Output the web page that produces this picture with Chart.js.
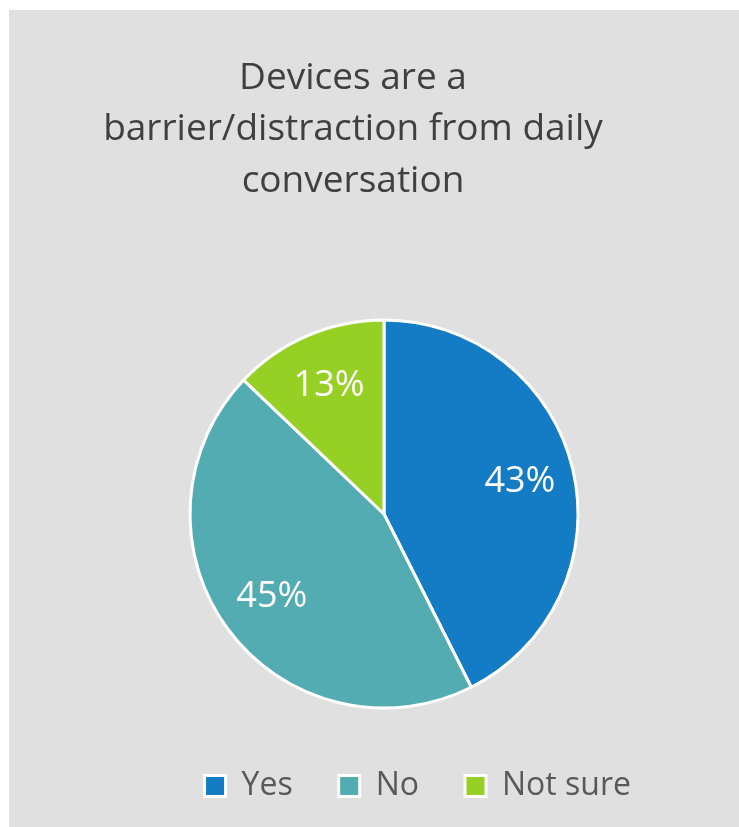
<!DOCTYPE html>
<html>
<head>
<meta charset="utf-8">
<script src="https://cdn.jsdelivr.net/npm/chart.js@4"></script>
<style>
  html, body { margin: 0; padding: 0; background: #ffffff; }
  #wrap { position: absolute; left: 9px; top: 10px; width: 730px; height: 817px; background: #e0e0e0; }
</style>
</head>
<body>
<div id="wrap"><canvas id="chart" width="730" height="817"></canvas></div>
<script>
const categories = ['Yes', 'No', 'Not sure'];
const values = [43, 45, 13];
const labelsText = ['43%', '45%', '13%'];
const colors = ['#137cc5', '#53acb1', '#96d025'];
const titleLines = ['Devices are a', 'barrier/distraction from daily', 'conversation'];

const fontFamily = '"Open Sans", sans-serif';

// title is drawn by hand so it can sit left of the pie centre like in the original
const titleText = {
    id: 'titleText',
    afterDraw(chart) {
        const {ctx} = chart;
        ctx.save();
        ctx.fillStyle = '#404040';
        ctx.font = '37px ' + fontFamily;
        ctx.textAlign = 'center';
        ctx.textBaseline = 'middle';
        titleLines.forEach((line, i) => ctx.fillText(line, 344, 68 + i * 51.5));
        ctx.restore();
    }
};

// draws the percentage inside each slice
const sliceLabels = {
    id: 'sliceLabels',
    afterDatasetsDraw(chart) {
        const {ctx} = chart;
        const meta = chart.getDatasetMeta(0);
        ctx.save();
        ctx.fillStyle = '#ffffff';
        ctx.font = '36px ' + fontFamily;
        ctx.textAlign = 'center';
        ctx.textBaseline = 'middle';
        meta.data.forEach((arc, i) => {
            const p = arc.getProps(['x', 'y', 'startAngle', 'endAngle', 'outerRadius'], true);
            const mid = (p.startAngle + p.endAngle) / 2;
            const r = p.outerRadius * 0.72;
            ctx.fillText(labelsText[i], p.x + Math.cos(mid) * r, p.y + Math.sin(mid) * r);
        });
        ctx.restore();
    }
};

new Chart(document.getElementById('chart'), {
    type: 'pie',
    data: {
        labels: categories,
        datasets: [{
            data: values,
            backgroundColor: colors,
            borderColor: '#ffffff',
            borderWidth: 3,
            radius: 194
        }]
    },
    options: {
        responsive: false,
        animation: false,
        layout: { padding: { left: 82, right: 62, top: 294, bottom: 15 } },
        plugins: {
            title: { display: false },
            legend: {
                position: 'bottom',
                align: 'end',
                labels: {
                    color: '#595959',
                    font: { family: fontFamily, size: 32 },
                    boxWidth: 21,
                    boxHeight: 21,
                    padding: 46
                }
            },
            tooltip: { enabled: false }
        }
    },
    plugins: [sliceLabels, titleText]
});
</script>
</body>
</html>
